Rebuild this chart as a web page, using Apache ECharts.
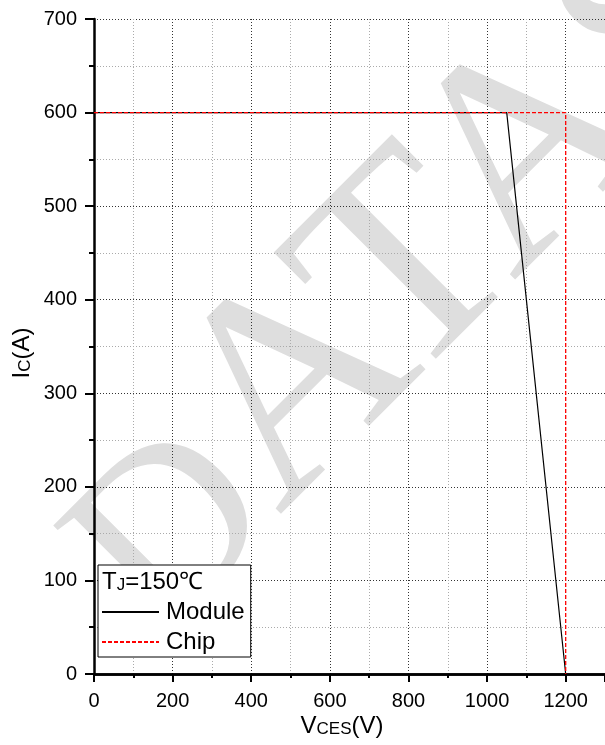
<!DOCTYPE html>
<html>
<head>
<meta charset="utf-8">
<script src="https://cdn.jsdelivr.net/npm/echarts@6/dist/echarts.min.js"></script>
<style>
  html, body { margin: 0; padding: 0; background: #fff; }
  #main { width: 605px; height: 745px; }
</style>
</head>
<body>
<div id="main"></div>
<script>
// RBSOA 曲线数据
var moduleData = [[0, 600], [1050, 600], [1200, 0]];
var chipData = [[0, 600], [1200, 600], [1200, 0]];
var seriesNames = ['Module', 'Chip'];
var xMax = 1300, xStep = 200;
var yMax = 700, yStep = 100;

var FONT = '"Liberation Sans", Arial, sans-serif';
var dotted = [1, 2];

// 水印位置 (旋转 45°)
var wmFont = '"Liberation Serif", serif';
var wmAngle = 45 * Math.PI / 180;
var wmX = 77, wmY = 610, wmSize = 290, dSize = 240;
var ctx = document.createElement('canvas').getContext('2d');
ctx.font = wmSize + 'px ' + wmFont;
var dOff = ctx.measureText('DATASHEET').width - ctx.measureText('ATASHEET').width;
var restX = wmX + dOff * Math.cos(wmAngle);
var restY = wmY - dOff * Math.sin(wmAngle);
// D 字较小，基线对齐
var shift = (wmSize - dSize) * 0.35;
var dX = restX + shift * Math.sin(wmAngle);
var dY = restY + shift * Math.cos(wmAngle);

var chart = echarts.init(document.getElementById('main'));

var option = {
  backgroundColor: '#fff',
  animation: false,
  grid: { left: 94, right: -3, top: 19, bottom: 71 },
  xAxis: [
    {
      type: 'value', min: 0, max: xMax, interval: xStep, position: 'bottom',
      axisLine: { onZero: false, lineStyle: { color: '#000', width: 2.5 } },
      axisTick: { length: 8, lineStyle: { color: '#000', width: 2 } },
      minorTick: { show: true, splitNumber: 2, length: 4, lineStyle: { color: '#000', width: 2 } },
      axisLabel: {
        fontSize: 20, color: '#000', fontFamily: FONT, margin: 17, showMaxLabel: false,
        formatter: function (v) { return String(v); }
      },
      splitLine: { show: true, lineStyle: { color: '#333', width: 1, type: dotted } },
      minorSplitLine: { show: true, lineStyle: { color: '#aaa', width: 1, type: dotted } }
    },
    {
      type: 'value', min: 0, max: xMax, position: 'top',
      axisLine: { show: true, lineStyle: { color: '#000', width: 2.5 } },
      axisTick: { show: false }, axisLabel: { show: false }, splitLine: { show: false }
    }
  ],
  yAxis: {
    type: 'value', min: 0, max: yMax, interval: yStep,
    axisLine: { show: true, onZero: false, lineStyle: { color: '#000', width: 2.5 } },
    axisTick: { show: true, length: 9, lineStyle: { color: '#000', width: 2 } },
    minorTick: { show: true, splitNumber: 2, length: 5, lineStyle: { color: '#000', width: 2 } },
    axisLabel: { fontSize: 20, color: '#000', fontFamily: FONT, margin: 17 },
    splitLine: { show: true, lineStyle: { color: '#333', width: 1, type: dotted } },
    minorSplitLine: { show: true, lineStyle: { color: '#aaa', width: 1, type: dotted } }
  },
  legend: {
    orient: 'vertical',
    left: 98, top: 565,
    padding: [34, 6, 2, 3],
    backgroundColor: '#fff',
    borderColor: '#000',
    borderWidth: 1,
    itemWidth: 57, itemHeight: 14, itemGap: 4,
    itemStyle: { opacity: 0 },
    textStyle: { fontSize: 24, color: '#000', fontFamily: FONT, lineHeight: 26, padding: [0, 0, 0, 2] },
    data: seriesNames
  },
  series: [
    {
      name: seriesNames[0], type: 'line', data: moduleData, symbol: 'none', z: 3,
      lineStyle: { color: '#000', width: 1.2 }, itemStyle: { color: '#000' }
    },
    {
      name: seriesNames[1], type: 'line', data: chipData, symbol: 'none', z: 4,
      lineStyle: { color: '#ff0000', width: 1.3, type: [4, 2] }, itemStyle: { color: '#ff0000' }
    }
  ],
  graphic: [
    {
      type: 'text', x: dX, y: dY, z: -10, silent: true, rotation: wmAngle,
      style: {
        text: 'D', font: dSize + 'px ' + wmFont,
        fill: '#dedede', align: 'right', verticalAlign: 'middle'
      }
    },
    {
      type: 'text', x: restX, y: restY, z: -10, silent: true, rotation: wmAngle,
      style: {
        text: 'ATASHEET', font: wmSize + 'px ' + wmFont,
        fill: '#dedede', align: 'left', verticalAlign: 'middle'
      }
    },
    {
      type: 'text', x: 342, y: 726, z: 50,
      style: {
        text: '{a|V}{b|CES}{a|(V)}', align: 'center', verticalAlign: 'middle',
        rich: {
          a: { fontSize: 24, fontFamily: FONT, fill: '#000', verticalAlign: 'bottom' },
          b: { fontSize: 17, fontFamily: FONT, fill: '#000', verticalAlign: 'bottom' }
        }
      }
    },
    {
      type: 'text', x: 22, y: 353, z: 50, rotation: Math.PI / 2,
      style: {
        text: '{a|I}{b|C}{a|(A)}', align: 'center', verticalAlign: 'middle',
        rich: {
          a: { fontSize: 24, fontFamily: FONT, fill: '#000', verticalAlign: 'bottom' },
          b: { fontSize: 17, fontFamily: FONT, fill: '#000', verticalAlign: 'bottom' }
        }
      }
    },
    {
      type: 'text', x: 102, y: 582, z: 100,
      style: {
        text: '{a|T}{b|J}{a|=150℃}', align: 'left', verticalAlign: 'middle',
        rich: {
          a: { fontSize: 24, fontFamily: FONT, fill: '#000', verticalAlign: 'bottom' },
          b: { fontSize: 17, fontFamily: FONT, fill: '#000', verticalAlign: 'bottom' }
        }
      }
    }
  ]
};

chart.setOption(option);
</script>
</body>
</html>
